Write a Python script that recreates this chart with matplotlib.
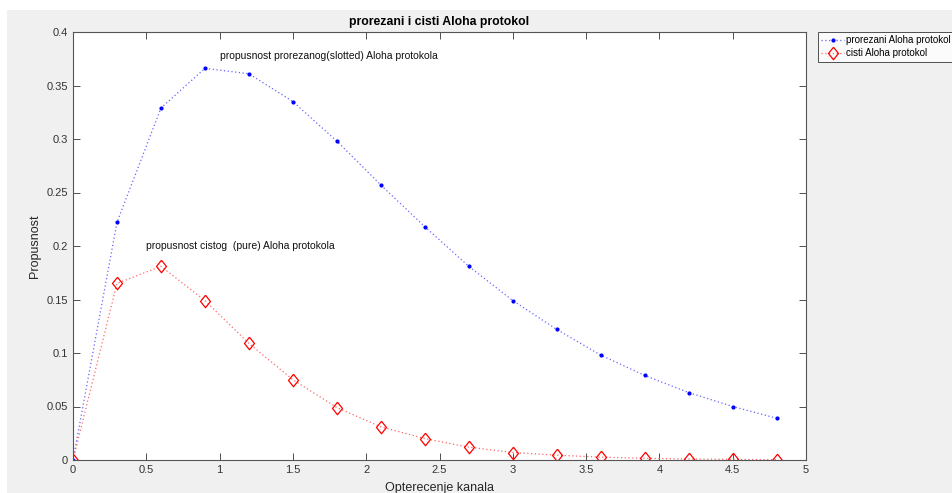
import matplotlib.pyplot as plt
import matplotlib.patches as mpatches

# opterecenje kanala G
G = [0, 0.3, 0.6, 0.9, 1.2, 1.5, 1.8, 2.1, 2.4, 2.7, 3.0, 3.3, 3.6, 3.9, 4.2, 4.5, 4.8]
# prorezani (slotted) Aloha
slotted = [0, 0.222, 0.329, 0.366, 0.361, 0.335, 0.298, 0.257, 0.218, 0.181,
           0.149, 0.122, 0.098, 0.079, 0.063, 0.050, 0.039]
# cisti (pure) Aloha
pure = [0, 0.165, 0.181, 0.149, 0.109, 0.075, 0.049, 0.031, 0.020, 0.012,
        0.007, 0.0045, 0.0027, 0.0016, 0.0009, 0.0006, 0.0003]

xticks = [0, 0.5, 1, 1.5, 2, 2.5, 3, 3.5, 4, 4.5, 5]
yticks = [0, 0.05, 0.1, 0.15, 0.2, 0.25, 0.3, 0.35, 0.4]

plt.rcParams['font.family'] = ['Liberation Sans', 'DejaVu Sans']
W, H = 952, 493
fig = plt.figure(figsize=(W / 100, H / 100), dpi=100, facecolor='white')
# sivi okvir figure kao u MATLAB-u
fig.patches.append(mpatches.Rectangle((7 / W, 0), 1 - 7 / W, 1 - 10 / H,
                                      transform=fig.transFigure,
                                      facecolor='#f0f0f0', edgecolor='none', zorder=-10))

ax = fig.add_axes([73 / W, 1 - 460 / H, (806 - 73) / W, (460 - 32) / H])
ax.set_facecolor('white')

# MATLAB-ov romb (siri od 'd')
diamond = [(0, 1), (0.8, 0), (0, -1), (-0.8, 0), (0, 1)]
dots = (0, (1, 2))

ax.plot(G, slotted, linestyle=dots, color='#6666ff', linewidth=0.9)
ax.plot(G, slotted, linestyle='none', color='blue', marker='.', markersize=4)
ax.plot(G, pure, linestyle=dots, color='#ff6666', linewidth=0.9)
ax.plot(G, pure, linestyle='none', color='red', marker=diamond, markersize=9,
        markerfacecolor='none', markeredgewidth=0.9)

# legenda sa kombinovanim linijama
h1, = ax.plot([], [], linestyle=dots, color='#6666ff', linewidth=0.9, marker='.',
              markersize=4, markerfacecolor='blue', markeredgecolor='blue')
h2, = ax.plot([], [], linestyle=dots, color='#ff6666', linewidth=0.9, marker=diamond,
              markersize=9, markerfacecolor='none', markeredgecolor='red',
              markeredgewidth=0.9)

ax.text(1.0, 0.378, 'propusnost prorezanog(slotted) Aloha protokola', fontsize=7.5,
        va='center', ha='left', color='#111111')
ax.text(0.5, 0.2, 'propusnost cistog  (pure) Aloha protokola', fontsize=7.5,
        va='center', ha='left', color='#111111')

ax.set_xlim(0, 5)
ax.set_ylim(0, 0.4)
ax.set_xticks(xticks)
ax.set_xticklabels([f'{t:g}' for t in xticks])
ax.set_yticks(yticks)
ax.set_yticklabels([f'{t:g}' for t in yticks])
ax.tick_params(direction='in', top=True, right=True, labelsize=8,
               colors='#333333', length=5, width=0.6)
for s in ax.spines.values():
    s.set_color('#555555')
    s.set_linewidth(0.8)

ax.set_title('prorezani i cisti Aloha protokol', fontsize=8.8, fontweight='bold', pad=5)
ax.set_xlabel('Opterecenje kanala', fontsize=9, color='#262626', labelpad=5)
ax.set_ylabel('Propusnost', fontsize=9, color='#262626', labelpad=4)

leg = fig.legend([h1, h2], ['prorezani Aloha protokol', 'cisti Aloha protokol'],
                 loc='upper left', bbox_to_anchor=(818 / W, 1 - 32 / H), fontsize=7.0,
                 frameon=True, fancybox=False, borderaxespad=0, handlelength=2.3,
                 handletextpad=0.2, borderpad=0.35, labelspacing=0.3)
leg.get_frame().set_edgecolor('#262626')
leg.get_frame().set_linewidth(0.7)

fig.savefig('out.png', dpi=100, facecolor=fig.get_facecolor())
